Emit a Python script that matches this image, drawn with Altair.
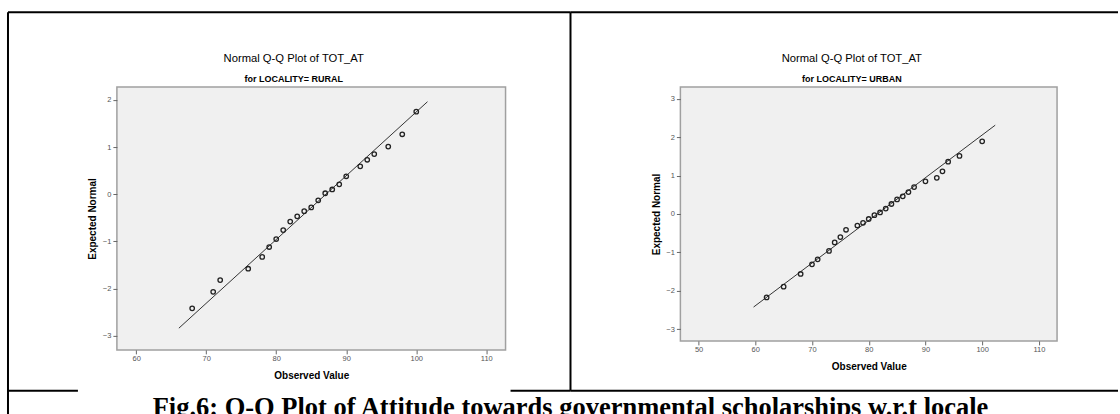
import altair as alt
import pandas as pd

# ---- data ----
rural_obs = [68, 71, 72, 76, 78, 79, 80, 81, 82, 83, 84, 85, 86, 87, 88, 89, 90, 92, 93, 94, 96, 98, 100]
rural_exp = [-2.42, -2.07, -1.82, -1.58, -1.33, -1.12, -0.95, -0.76, -0.58, -0.47, -0.36, -0.28, -0.13,
             0.02, 0.10, 0.21, 0.38, 0.59, 0.73, 0.85, 1.01, 1.27, 1.75]
rural_line_x = [66.1, 101.6]
rural_line_y = [-2.84, 1.96]

urban_obs = [62, 65, 68, 70, 71, 73, 74, 75, 76, 78, 79, 80, 81, 82, 83, 84, 85, 86, 87, 88, 90, 92, 93, 94, 96, 100]
urban_exp = [-2.17, -1.89, -1.56, -1.31, -1.18, -0.96, -0.74, -0.60, -0.41, -0.30, -0.23, -0.13, -0.03,
             0.04, 0.14, 0.26, 0.38, 0.46, 0.57, 0.70, 0.85, 0.94, 1.11, 1.36, 1.51, 1.89]
urban_line_x = [59.7, 102.3]
urban_line_y = [-2.42, 2.31]

rural_xticks = [60, 70, 80, 90, 100, 110]
rural_yticks = [-3, -2, -1, 0, 1, 2]
urban_xticks = [50, 60, 70, 80, 90, 100, 110]
urban_yticks = [-3, -2, -1, 0, 1, 2, 3]

title_main = "Normal Q-Q Plot of TOT_AT"
sub_rural = "for LOCALITY= RURAL"
sub_urban = "for LOCALITY= URBAN"
x_title = "Observed Value"
y_title = "Expected Normal"
caption = "Fig.6: Q-Q Plot of Attitude towards governmental scholarships w.r.t locale"

SANS = "Liberation Sans"
one = pd.DataFrame({"k": [0]})


def rule(x, y, x2=None, y2=None):
    enc = dict(x=alt.value(x), y=alt.value(y))
    if x2 is not None:
        enc["x2"] = alt.value(x2)
    if y2 is not None:
        enc["y2"] = alt.value(y2)
    return alt.Chart(one).mark_rule(color="black", strokeWidth=2).encode(**enc)


def label(text, x, y, size, weight, font=SANS):
    return alt.Chart(one).mark_text(text=text, font=font, fontSize=size, fontWeight=weight, color="black",
                                    align="center", baseline="middle").encode(x=alt.value(x), y=alt.value(y))


def panel(obs, exp, lx, ly, xdom, ydom, xticks, yticks):
    pts = pd.DataFrame({"obs": obs, "exp": exp})
    ln = pd.DataFrame({"obs": lx, "exp": ly})
    xs = alt.Scale(domain=xdom, nice=False, zero=False)
    ys = alt.Scale(domain=ydom, nice=False, zero=False)
    xax = alt.Axis(values=xticks, title=x_title, grid=False, domain=False, tickSize=4, tickColor="#666",
                   labelPadding=1, labelFontSize=7.5, labelColor="#555", labelFont=SANS,
                   titleFont=SANS, titleFontSize=10, titleFontWeight="bold", titleColor="black",
                   titleY=26, titleBaseline="middle")
    yax = alt.Axis(values=yticks, title=y_title, grid=False, domain=False, tickSize=4, tickColor="#666",
                   labelPadding=2, labelFontSize=7.5, labelColor="#555", labelFont=SANS,
                   titleFont=SANS, titleFontSize=10, titleFontWeight="bold", titleColor="black",
                   titleX=-24, titleBaseline="middle")
    points = alt.Chart(pts).mark_point(shape="circle", filled=False, color="#222", size=20,
                                       strokeWidth=1.3, opacity=1).encode(
        x=alt.X("obs:Q", scale=xs, axis=xax),
        y=alt.Y("exp:Q", scale=ys, axis=yax),
    )
    line = alt.Chart(ln).mark_line(color="#333", strokeWidth=1).encode(
        x=alt.X("obs:Q", scale=xs),
        y=alt.Y("exp:Q", scale=ys),
    )
    return line, points


# left panel (plot origin at page 116,86)
l_line, l_pts = panel(rural_obs, rural_exp, rural_line_x, rural_line_y, [57.25, 112.75],
                      [-3.3, 2.27], rural_xticks, rural_yticks)
left = alt.layer(
    l_line, l_pts,
    label(title_main, 177, -27.7, 11.25, "normal"),
    label(sub_rural, 177, -8.3, 9, "bold"),
    rule(-109, -75, x2=454),          # top border
    rule(-109, -75, y2=328),          # left border
    rule(454, -75, y2=304),           # middle divider
    rule(-109, 304, x2=-39),          # caption line (left piece)
    rule(394, 304, x2=454),           # caption line (middle piece)
).properties(width=389, height=263)

# right panel (plot origin at page 680,86)
r_line, r_pts = panel(urban_obs, urban_exp, urban_line_x, urban_line_y, [46.8, 113.2],
                      [-3.3, 3.3], urban_xticks, urban_yticks)
right = alt.layer(
    r_line, r_pts,
    label(title_main, 171.6, -27.7, 11.25, "normal"),
    label(sub_urban, 171.6, -8.3, 9, "bold"),
    rule(-110, -75, x2=438),          # top border
    rule(-110, 304, x2=438),          # caption line
    label(caption, -110, 321, 26.5, "bold", font="Liberation Serif"),
).properties(width=377, height=254)

chart = alt.hconcat(left, right, spacing=175, bounds="flush").properties(
    padding={"left": 6, "top": 10, "right": 0, "bottom": 0},
    background="white",
).configure_view(fill="#f0f0f0", stroke="#a0a0a0", strokeWidth=1.5)

chart.save("out.html", embed_options={"renderer": "svg", "actions": False})
